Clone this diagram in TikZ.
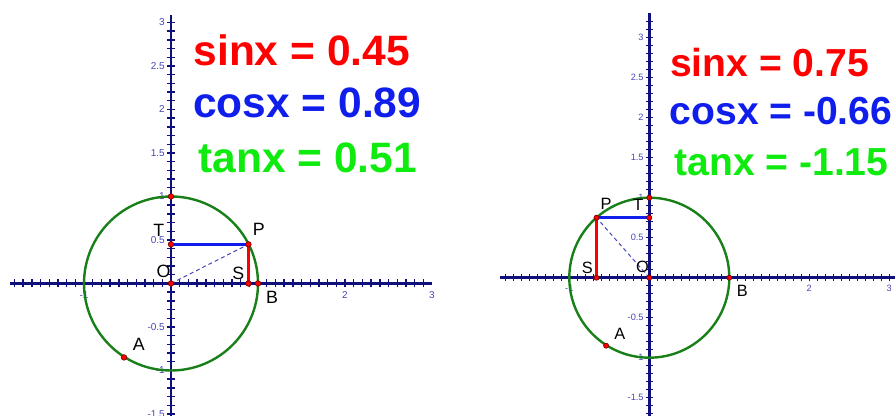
\documentclass[tikz,border=0pt]{standalone}
\usepackage{fontspec}
\setmainfont{Liberation Sans}
\usetikzlibrary{calc}

\definecolor{axisblue}{RGB}{16,16,125}
\definecolor{ticklab}{RGB}{70,70,185}
\definecolor{circgreen}{RGB}{25,128,25}
\definecolor{sinred}{RGB}{255,0,0}
\definecolor{cosblue}{RGB}{15,30,235}
\definecolor{tangreen}{RGB}{15,235,15}

\tikzset{
  axisline/.style={axisblue, line width=1.4pt},
  tickline/.style={axisblue, line width=0.7pt},
  ticklabel/.style={ticklab, font=\fontsize{5}{6}\selectfont, inner sep=0.3pt},
  unitcircle/.style={circgreen, line width=1.2pt},
  dashline/.style={ticklab, line width=0.5pt, dash pattern=on 2pt off 1.5pt},
  sinline/.style={sinred, line width=1.5pt},
  cosline/.style={cosblue, line width=1.5pt},
  dotpt/.style={circle, fill=red, draw=red!45!black, line width=0.3pt, inner sep=0pt, minimum size=2.8pt},
  ptlabel/.style={font=\fontsize{8.9}{10}\selectfont, inner sep=0pt},
  valtext/.style={font=\fontsize{21.25}{24}\selectfont\bfseries, anchor=base west, inner sep=0pt},
}

\begin{document}
\begin{tikzpicture}[x=0.5pt, y=0.5pt]
  \useasboundingbox (0,0) rectangle (895,416);
  % left circle, first quadrant
  \begin{scope}[shift={(171,132.5)}, x=43.5pt, y=43.5pt]
    \draw[axisline] (-1.85,0) -- (3.0,0);
    \draw[axisline] (0,-1.6) -- (0,3.09);
    \foreach \t in {-18,...,29} \draw[tickline] (\t/10,-0.046) -- (\t/10,0.046);
    \foreach \t in {-15,...,30} \draw[tickline] (-0.046,\t/10) -- (0.046,\t/10);
    \foreach \v in {-1.5,-1,-0.5,0.5,1,1.5,2,2.5,3} \node[ticklabel, anchor=east] at (-0.06,\v) {\v};
    \foreach \v in {-1,2,3} \node[ticklabel, anchor=north] at (\v,-0.085) {\v};
    \coordinate (O1) at (0,0);
    \coordinate (P1) at (0.89,0.45);
    \coordinate (T1) at (0,0.45);
    \coordinate (S1) at (0.89,0);
    \coordinate (B1) at (1,0);
    \coordinate (U1) at (0,1);
    \coordinate (A1) at (-0.54,-0.85);
    \draw[unitcircle] (O1) circle[radius=1];
    \draw[dashline] (O1) -- (P1);
    \draw[cosline] (T1) -- (P1);
    \draw[sinline] (P1) -- (S1);
    \foreach \p in {O1,T1,P1,S1,B1,U1,A1} \node[dotpt] (d\p) at (\p) {};
    \node[ptlabel] (lP1) at ($(P1)+(0.12,0.17)$) {P};
    \node[ptlabel] (lT1) at ($(T1)+(-0.14,0.16)$) {T};
    \node[ptlabel] (lO1) at ($(O1)+(-0.085,0.135)$) {O};
    \node[ptlabel] (lS1) at ($(S1)+(-0.115,0.12)$) {S};
    \node[ptlabel] (lB1) at ($(B1)+(0.163,-0.16)$) {B};
    \node[ptlabel] (lA1) at ($(A1)+(0.17,0.15)$) {A};
    \node[valtext, sinred] (sin1) at (0.255,2.51) {sinx = 0.45};
    \node[valtext, cosblue] (cos1) at (0.25,1.912) {cosx = 0.89};
    \node[valtext, tangreen] (tan1) at (0.31,1.275) {tanx = 0.51};
  \end{scope}
  % right circle, second quadrant
  \begin{scope}[shift={(649.3,138.3)}, scale=0.9195, transform shape, x=43.5pt, y=43.5pt]
    \draw[axisline] (-1.87,0) -- (3.1,0);
    \draw[axisline] (0,-1.8) -- (0,3.31);
    \foreach \t in {-18,...,30} \draw[tickline] (\t/10,-0.046) -- (\t/10,0.046);
    \foreach \t in {-17,...,32} \draw[tickline] (-0.046,\t/10) -- (0.046,\t/10);
    \foreach \v in {-1.5,-1,-0.5,0.5,1,1.5,2,2.5,3} \node[ticklabel, anchor=east] at (-0.06,\v) {\v};
    \foreach \v in {-1,2,3} \node[ticklabel, anchor=north] at (\v,-0.085) {\v};
    \coordinate (O2) at (0,0);
    \coordinate (P2) at (-0.66,0.75);
    \coordinate (T2) at (0,0.75);
    \coordinate (S2) at (-0.66,0);
    \coordinate (B2) at (1,0);
    \coordinate (U2) at (0,1);
    \coordinate (A2) at (-0.54,-0.85);
    \draw[unitcircle] (O2) circle[radius=1];
    \draw[dashline] (O2) -- (P2);
    \draw[cosline] (T2) -- (P2);
    \draw[sinline] (P2) -- (S2);
    \foreach \p in {O2,T2,P2,S2,B2,U2,A2} \node[dotpt] (d\p) at (\p) {};
    \node[ptlabel] (lP2) at ($(P2)+(0.12,0.17)$) {P};
    \node[ptlabel] (lT2) at ($(T2)+(-0.14,0.16)$) {T};
    \node[ptlabel] (lO2) at ($(O2)+(-0.085,0.135)$) {O};
    \node[ptlabel] (lS2) at ($(S2)+(-0.115,0.12)$) {S};
    \node[ptlabel] (lB2) at ($(B2)+(0.163,-0.16)$) {B};
    \node[ptlabel] (lA2) at ($(A2)+(0.17,0.15)$) {A};
    \node[valtext, sinred] (sin2) at (0.255,2.51) {sinx = 0.75};
    \node[valtext, cosblue] (cos2) at (0.25,1.912) {cosx = -0.66};
    \node[valtext, tangreen] (tan2) at (0.31,1.275) {tanx = -1.15};
  \end{scope}
\end{tikzpicture}
\end{document}
